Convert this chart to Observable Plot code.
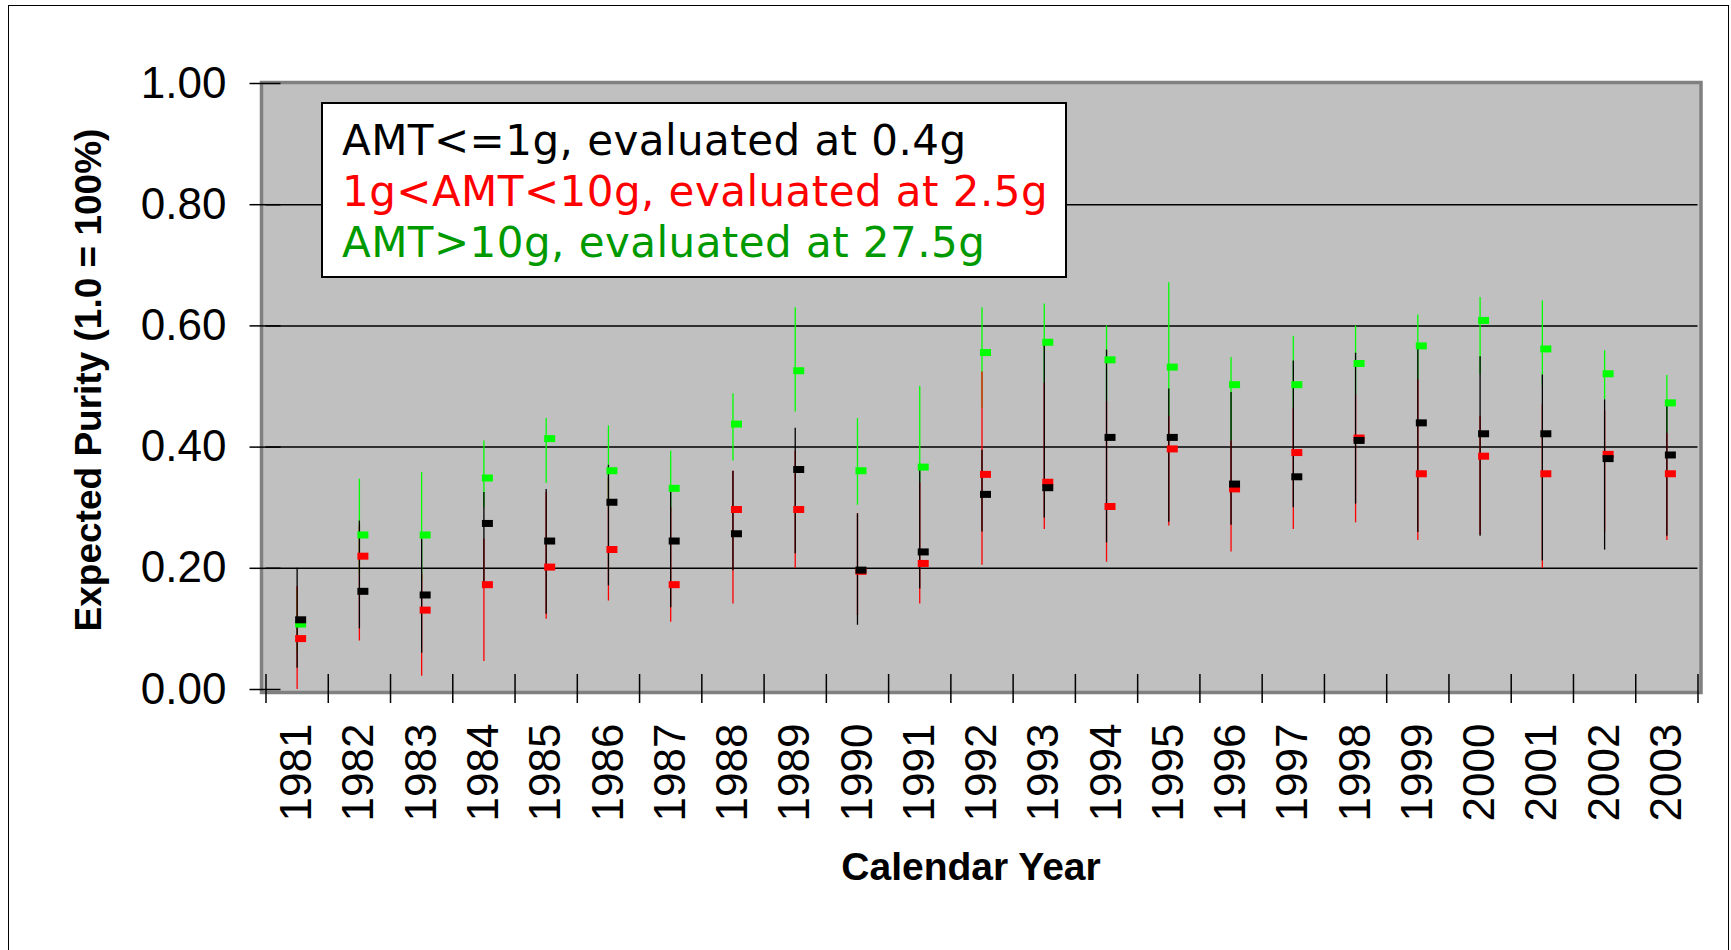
<!DOCTYPE html>
<html><head><meta charset="utf-8">
<script src="https://cdn.jsdelivr.net/npm/d3@7"></script>
<script src="https://cdn.jsdelivr.net/npm/@observablehq/plot@0.6"></script>
<style>
html,body{margin:0;padding:0;background:#fff}
body{width:1731px;height:950px;overflow:hidden;position:relative;font-family:"Liberation Sans",Arial,sans-serif}
#outer{position:absolute;left:8px;top:5px;width:1721px;height:1000px;border:1.5px solid #000;box-sizing:border-box}
#chart{position:absolute;left:0;top:0}
#legend{position:absolute;left:321px;top:102px;width:746px;height:176px;box-sizing:border-box;border:2px solid #000;background:#fff;padding:11px 0 0 19px;font-family:"DejaVu Sans",sans-serif;font-size:42px;line-height:51px;letter-spacing:0.45px;white-space:nowrap}
#ytitle{position:absolute;left:89px;top:380px;transform:translate(-50%,-50%) rotate(-90deg);font-weight:bold;font-size:37px;line-height:42px;white-space:nowrap}
#xtitle{position:absolute;left:971px;top:845px;transform:translateX(-50%);font-weight:bold;font-size:39px;line-height:44px;white-space:nowrap}
</style></head><body>
<div id="outer"></div>
<div id="chart"></div>
<div id="legend"></div>
<div id="ytitle"></div>
<div id="xtitle"></div>
<script>
const years = [1981,1982,1983,1984,1985,1986,1987,1988,1989,1990,1991,1992,1993,1994,1995,1996,1997,1998,1999,2000,2001,2002,2003];

const blackMid  = [0.115,0.162,0.156,0.274,0.245,0.309,0.245,0.257,0.363,0.197,0.227,0.322,0.333,0.416,0.416,0.339,0.351,0.411,0.440,0.422,0.422,0.381,0.387];
const blackLow  = [0.035,0.100,0.060,0.171,0.124,0.171,0.135,0.196,0.224,0.106,0.166,0.260,0.283,0.242,0.276,0.271,0.300,0.306,0.259,0.253,0.212,0.230,0.253];
const blackHigh = [0.200,0.278,0.248,0.325,0.330,0.370,0.325,0.360,0.431,0.290,0.366,0.395,0.577,0.560,0.496,0.490,0.542,0.555,0.566,0.549,0.519,0.478,0.472];

const redMid  = [0.084,0.220,0.131,0.173,0.202,0.231,0.173,0.297,0.297,0.195,0.208,0.355,0.342,0.302,0.397,0.331,0.391,0.415,0.356,0.385,0.356,0.388,0.356];
const redLow  = [0.000,0.080,0.022,0.046,0.116,0.146,0.111,0.141,0.200,0.122,0.141,0.205,0.264,0.210,0.270,0.227,0.264,0.275,0.246,0.255,0.200,0.259,0.246];
const redHigh = [0.170,0.270,0.190,0.248,0.325,0.350,0.300,0.360,0.393,0.290,0.341,0.524,0.505,0.475,0.450,0.410,0.464,0.486,0.511,0.450,0.470,0.460,0.423];

const greenMid  = [0.108,0.255,0.255,0.349,0.414,0.361,0.332,0.438,0.526,0.361,0.367,0.556,0.573,0.544,0.532,0.503,0.503,0.538,0.567,0.609,0.562,0.521,0.473];
const greenLow  = [0.064,0.190,0.180,0.300,0.340,0.300,0.290,0.377,0.458,0.304,0.341,0.464,0.505,0.475,0.450,0.410,0.464,0.486,0.511,0.519,0.500,0.478,0.423];
const greenHigh = [0.164,0.347,0.358,0.410,0.447,0.435,0.393,0.488,0.630,0.447,0.500,0.630,0.636,0.600,0.671,0.548,0.583,0.600,0.618,0.647,0.641,0.559,0.518];

const seriesNames  = ["AMT>10g","1g<AMT<10g","AMT<=1g"];
const seriesColors = ["#00ff00","#ff0000","#000000"];
const legendLabels = ["AMT<=1g, evaluated at 0.4g","1g<AMT<10g, evaluated at 2.5g","AMT>10g, evaluated at 27.5g"];
const legendColors = ["#000000","#ff0000","#009a00"];
const yTicks = [0,0.2,0.4,0.6,0.8,1.0];
const gridTicks = [0.2,0.4,0.6,0.8];
const yTitle = "Expected Purity (1.0 = 100%)";
const xTitle = "Calendar Year";

const seriesData = {
  "AMT>10g":[greenMid,greenLow,greenHigh],
  "1g<AMT<10g":[redMid,redLow,redHigh],
  "AMT<=1g":[blackMid,blackLow,blackHigh]
};
const table = [];
seriesNames.forEach(name => {
  const [m,l,h] = seriesData[name];
  years.forEach((yr,i) => table.push({year: yr, series: name, mid: m[i], low: l[i], high: h[i]}));
});
const boundaries = years.map(y => y - 0.5).concat([years[years.length-1] + 0.5]);

const rectSymbol = {draw(ctx){ ctx.rect(-5.5,-3.5,11,7); }};

const chart = Plot.plot({
  width: 1731, height: 950,
  marginLeft: 265.5, marginRight: 33.5, marginTop: 83, marginBottom: 261,
  style: {fontFamily: '"Liberation Sans", Arial, sans-serif', fontSize: "44px", background: "transparent", color: "#000", overflow: "visible"},
  x: {type: "linear", domain: [boundaries[0], boundaries[boundaries.length-1]], label: null},
  y: {domain: [0,1], label: null},
  color: {domain: seriesNames, range: seriesColors},
  marks: [
    Plot.frame({fill: "#c0c0c0", stroke: null, insetLeft: -4.5, insetRight: -3, insetTop: -2, insetBottom: -3}),
    Plot.gridY(gridTicks, {stroke: "#000", strokeOpacity: 1, strokeWidth: 1.5}),
    Plot.ruleX(table, {x: "year", y1: "low", y2: "high", stroke: "series", strokeWidth: 1.3}),
    Plot.dot(table, {x: "year", y: "mid", fill: "series", symbol: rectSymbol, r: 4, dx: 3.5}),
    Plot.frame({stroke: "#808080", strokeWidth: 3.5, insetLeft: -4.5, insetRight: -3, insetTop: -1, insetBottom: -3}),
    Plot.axisY({ticks: yTicks, tickSize: 31, dx: 15, tickFormat: () => "", label: null, stroke: "#000", strokeWidth: 1.5}),
    Plot.axisY({ticks: yTicks, tickSize: 0, tickPadding: 39.5, tickFormat: d3.format(".2f"), fontSize: 44, label: null}),
    Plot.axisX({ticks: boundaries, tickSize: 29, dy: -15, tickFormat: () => "", label: null, stroke: "#000", strokeWidth: 1.5}),
    Plot.axisX({ticks: years, tickSize: 0, tickPadding: 34, tickRotate: -90, tickFormat: d => String(d), fontSize: 44, label: null})
  ]
});
document.getElementById("chart").appendChild(chart);

const legend = document.getElementById("legend");
legendLabels.forEach((t,i) => {
  const d = document.createElement("div");
  d.textContent = t;
  d.style.color = legendColors[i];
  legend.appendChild(d);
});
document.getElementById("ytitle").textContent = yTitle;
document.getElementById("xtitle").textContent = xTitle;
</script>
</body></html>
